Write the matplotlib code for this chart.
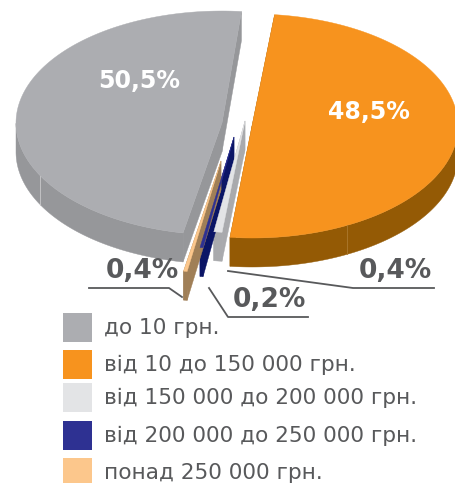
import numpy as np
import matplotlib
matplotlib.use('Agg')
import matplotlib.pyplot as plt
from matplotlib.patches import Polygon, Rectangle

# Share of each group, %
groups = ['до 10 грн.', 'від 10 до 150 000 грн.', 'від 150 000 до 200 000 грн.',
          'від 200 000 до 250 000 грн.', 'понад 250 000 грн.']
shares = [50.5, 48.5, 0.4, 0.2, 0.4]
share_labels = ['50,5%', '48,5%', '0,4%', '0,2%', '0,4%']

# Colours of the top face, the walls and the legend box
face_colors = ['#ACADB1', '#F7931E', '#E3E4E6', '#2E3192', '#FCC78C']
wall_colors = ['#96979A', '#945A05', '#A9AAAD', '#0B1566', '#A07F57']
legend_colors = ['#ACADB1', '#F7931E', '#E3E4E6', '#2E3192', '#FCC78C']

# Look of the tilted pie (pixels, degrees clockwise from the top)
rx, ry, depth = 206, 112, 29
start_angle = 190.9
centers = [(222, 123), (252, 126), (245, 121), (234, 137), (221, 161)]
turn = [0, -6.4, -0.9, -0.1, 0.0]      # slices are not quite where the share puts them
stretch = [0.96, 1.03, 1.6, 1.2, 0.7]
seam_angles = [242, 152.5]             # thin light joints on the front walls

legend_tops = [313, 350, 383, 421, 458]
legend_heights = [29, 29, 29, 29, 25]
text_color = '#58595B'


def rim(center, angles):
    rad = np.radians(angles)
    return center[0] + rx * np.sin(rad), center[1] - ry * np.cos(rad)


def draw_slice(ax, center, a0, a1, face, wall):
    angles = np.linspace(a0, a1, 200)
    x, y = rim(center, angles)
    cx, cy = center
    # outer wall, only the part facing us
    front = np.cos(np.radians(angles)) < 0
    if front.any():
        fx, fy = x[front], y[front]
        pts = np.r_[np.c_[fx, fy], np.c_[fx[::-1], fy[::-1] + depth]]
        ax.add_patch(Polygon(pts, closed=True, fc=wall, ec=wall, lw=0.3, zorder=2))
    # the two cut walls
    for px, py in [(x[0], y[0]), (x[-1], y[-1])]:
        pts = [(cx, cy), (px, py), (px, py + depth), (cx, cy + depth)]
        ax.add_patch(Polygon(pts, closed=True, fc=wall, ec=wall, lw=0.3, zorder=2))
    pts = np.r_[[(cx, cy)], np.c_[x, y]]
    ax.add_patch(Polygon(pts, closed=True, fc=face, ec=face, lw=0.3, zorder=3))


fig = plt.figure(figsize=(4.56, 4.84), dpi=100)
ax = fig.add_axes([0, 0, 1, 1])
ax.set_xlim(0, 456)
ax.set_ylim(484, 0)
ax.axis('off')

spans = np.array(shares) / sum(shares) * 360
cum = np.r_[0, np.cumsum(spans)[:-1]]
for i in range(len(shares)):
    a0 = start_angle + cum[i] + turn[i]
    draw_slice(ax, centers[i], a0, a0 + spans[i] * stretch[i], face_colors[i], wall_colors[i])

# Joints on the front walls
for i, ang in enumerate(seam_angles):
    sx, sy = rim(centers[i], ang)
    ax.plot([sx, sx], [sy, sy + depth], color='#C9C9CB' if i == 0 else '#AD7A30', lw=0.6, zorder=3)

# Leader lines
ax.plot([228, 353, 434], [271, 288, 288], color=text_color, lw=1.3, zorder=4)
ax.plot([209, 228, 308], [288, 317, 317], color=text_color, lw=1.3, zorder=4)
ax.plot([89, 169, 182], [288, 288, 297], color=text_color, lw=1.3, zorder=4)

# Share labels
label_pos = [(139, 81), (369, 112), (395, 271), (269, 300), (142, 271)]
label_colors = ['white', 'white', text_color, text_color, text_color]
label_sizes = [17, 17, 19, 19, 19]
for txt, pos, col, size in zip(share_labels, label_pos, label_colors, label_sizes):
    ax.text(pos[0], pos[1], txt, color=col, fontsize=size, fontweight='bold',
            ha='center', va='center', zorder=5)

# Legend
for name, col, top, h in zip(groups, legend_colors, legend_tops, legend_heights):
    ax.add_patch(Rectangle((63, top), 29, h, fc=col, ec='none', zorder=3))
    ax.text(104, top + 15, name, color=text_color, fontsize=15.55, ha='left', va='center', zorder=5)

fig.savefig('out.png', dpi=100)
